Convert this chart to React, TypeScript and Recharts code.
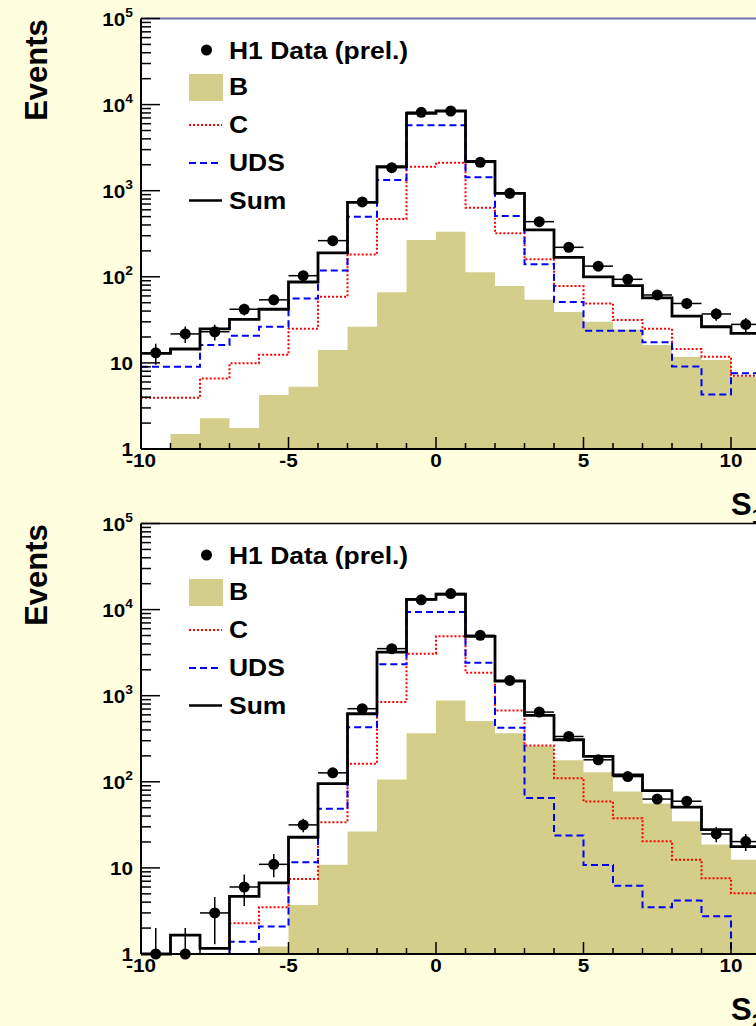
import React from 'react';
import {
  ComposedChart,
  Area,
  Line,
  Scatter,
  XAxis,
  YAxis,
  CartesianGrid,
  ReferenceLine,
  ErrorBar,
  Legend,
} from 'recharts';

const FONT = "'Liberation Sans', Arial, Helvetica, sans-serif";
const BG = '#ffffe0';
const KHAKI = '#d3cf8a';
const RED = '#ff0000';
const BLUE = '#0000ff';

// ---------- bins ----------
const binLow = [-10, -9, -8, -7, -6, -5, -4, -3, -2, -1, 0, 1, 2, 3, 4, 5, 6, 7, 8, 9, 10];
const binCenter = [-9.5, -8.5, -7.5, -6.5, -5.5, -4.5, -3.5, -2.5, -1.5, -0.5, 0.5, 1.5, 2.5, 3.5, 4.5, 5.5, 6.5, 7.5, 8.5, 9.5, 10.5];
const lastEdge = 11;

// ---------- top panel ----------
const topB = [null, 1.49, 2.27, 1.75, 4.24, 5.3, 14.1, 26.3, 66, 267, 334, 113, 78, 54, 39, 30, 24.5, 16.1, 11.7, 10.8, 6.9];
const topC = [3.94, 3.94, 6.6, 9.9, 12.4, 25, 58.7, 182, 469, 1900, 2115, 635, 320, 160, 78, 49, 31.5, 25, 14.5, 11.8, 7.1];
const topUDS = [9.0, 9.0, 16.1, 20.7, 26.3, 56, 118, 499, 1331, 5750, 5750, 1432, 508, 140, 51, 23.7, 23.7, 17.4, 9.1, 4.3, 7.6];
const topSum = [12.9, 14.5, 24.8, 32, 42, 87, 190, 733, 1900, 7930, 8430, 2195, 933, 350, 168, 100, 79, 57, 35, 26.3, 22];
const topData = [13.1, 21.7, 23, 42, 54, 103, 263, 740, 1850, 8130, 8430, 2136, 933, 437, 220, 133, 93.5, 61.5, 49, 37, 28];
const topErrLow = [3.6, 4.7, 4.8, 6.5, 7.3, 10, 16, 27, 43, 90, 92, 46, 31, 21, 15, 11.5, 9.7, 7.8, 7, 6.1, 5.3];
const topErrHigh = [3.6, 4.7, 4.8, 6.5, 7.3, 10, 16, 27, 43, 90, 92, 46, 31, 21, 15, 11.5, 9.7, 7.8, 7, 6.1, 5.3];

// ---------- bottom panel ----------
const botB = [null, null, null, null, 1.22, 3.71, 10.9, 26.4, 106, 367, 882, 507, 367, 260, 178, 129, 77, 56, 34.8, 18.7, 12.4];
const botC = [null, null, null, 2.27, 3.48, 7.45, 33.9, 162, 843, 3080, 4890, 1850, 675, 264, 110, 59, 37.7, 20.4, 12.4, 7.57, 5.07];
const botUDS = [1, 1, 1, 1.39, 2.08, 11.6, 48.5, 431, 2312, 9380, 9380, 2420, 425, 65, 23.8, 10.8, 6.2, 3.48, 4.17, 2.74, 1];
const botSum = [1, 1.66, 1.16, 4.67, 6.7, 22.7, 95, 617, 3213, 13180, 15070, 4890, 1478, 590, 308, 197, 120, 79, 50.7, 27.9, 17.7];
const botData = [1, 1, 3, 6, 11, 31.6, 127, 706, 3520, 13000, 15350, 5030, 1506, 645, 336, 180, 115, 63, 59.5, 24.8, 20.2];
const botErrLow = [0, 0, 1.7, 2.4, 3.2, 5.6, 11, 27, 59, 114, 124, 71, 39, 25, 18, 13.4, 10.7, 7.9, 7.7, 5, 4.5];
const botErrHigh = [1, 1, 1.6, 2.4, 3.5, 5.6, 11, 27, 59, 114, 124, 71, 39, 25, 18, 13.4, 10.7, 7.9, 7.7, 5, 4.5];

// ---------- axes ----------
const xTicks = [-10, -9, -8, -7, -6, -5, -4, -3, -2, -1, 0, 1, 2, 3, 4, 5, 6, 7, 8, 9, 10, 11];
const xMajorTicks = [-10, -5, 0, 5, 10];
const xMajorLabels = ['-10', '-5', '0', '5', '10'];
const yMajorTicks = [1, 10, 100, 1000, 10000, 100000];
const yMajorBase = ['1', '10', '10', '10', '10', '10'];
const yMajorExp = ['', '', '2', '3', '4', '5'];
const yMinorMult = [2, 3, 4, 5, 6, 7, 8, 9];
const yTicks: number[] = [];
yMajorTicks.forEach((d, i) => {
  yTicks.push(d);
  if (i < yMajorTicks.length - 1) yMinorMult.forEach((m) => yTicks.push(d * m));
});

const legendLabels = ['H1 Data (prel.)', 'B', 'C', 'UDS', 'Sum'];
const xTitleMain = 'S';
const yTitle = 'Events';

// ---------- layout ----------
const W = 770;
const PLOT_TOP = 18.5;
const PLOT_H = 430.5;
const XAXIS_H = 80;
const CHART_H = PLOT_TOP + PLOT_H + XAXIS_H;
const Y_AXIS_W = 141;
const PLOT_RIGHT = 760.5;

const XTick = (props: any) => {
  const { x, y, payload } = props;
  const v = payload.value;
  const idx = xMajorTicks.indexOf(v);
  const major = idx >= 0;
  return (
    <g>
      <line x1={x} y1={y} x2={x} y2={y - (major ? 12 : 6)} stroke="#000" strokeWidth={1.5} />
      {major && (
        <text
          transform={`translate(${x},${y + 17.5}) scale(1.15,1)`}
          textAnchor="middle"
          fontFamily={FONT}
          fontWeight="bold"
          fontSize={18}
          fill="#000"
        >
          {xMajorLabels[idx]}
        </text>
      )}
    </g>
  );
};

const YTick = (props: any) => {
  const { x, y, payload } = props;
  const v = payload.value;
  const idx = yMajorTicks.findIndex((t) => Math.abs(t - v) < 1e-6 * t);
  const major = idx >= 0;
  return (
    <g>
      <line x1={x} y1={y} x2={x + (major ? 19 : 10)} y2={y} stroke="#000" strokeWidth={1.5} />
      {major && (
        <text
          transform={`translate(133,${y + 7}) scale(1.15,1)`}
          textAnchor="end"
          fontFamily={FONT}
          fontWeight="bold"
          fontSize={18}
          fill="#000"
        >
          {yMajorBase[idx]}
          {yMajorExp[idx] !== '' && (
            <tspan dy={-9} fontSize={12}>
              {yMajorExp[idx]}
            </tspan>
          )}
        </text>
      )}
    </g>
  );
};

const LegendBox = () => {
  const rows = [50, 87, 125, 163, 200.5];
  const bases = [59.3, 94.5, 132.5, 171, 208.7];
  return (
    <svg width={420} height={230} style={{ display: 'block', overflow: 'visible' }}>
      <circle cx={206.5} cy={rows[0]} r={5.5} fill="#000" />
      <rect x={189} y={74} width={34} height={27} fill={KHAKI} />
      <line x1={189} x2={222} y1={rows[2]} y2={rows[2]} stroke={RED} strokeWidth={2} strokeDasharray="2 2" />
      <line x1={189} x2={222} y1={rows[3]} y2={rows[3]} stroke={BLUE} strokeWidth={2} strokeDasharray="7 4" />
      <line x1={189} x2={222} y1={rows[4]} y2={rows[4]} stroke="#000" strokeWidth={2.5} />
      {legendLabels.map((l, i) => (
        <text
          key={l}
          transform={`translate(229,${bases[i]}) scale(1.15,1)`}
          fontFamily={FONT}
          fontWeight="bold"
          fontSize={23}
          fill="#000"
        >
          {l}
        </text>
      ))}
    </svg>
  );
};

type PanelProps = {
  top: number;
  b: (number | null)[];
  c: (number | null)[];
  uds: (number | null)[];
  sum: (number | null)[];
  data: number[];
  errLow: number[];
  errHigh: number[];
  frameColor: string;
  frameWidth: number;
  sub: string;
};

const Panel = ({ top, b, c, uds, sum, data, errLow, errHigh, frameColor, frameWidth, sub }: PanelProps) => {
  const n = binLow.length;
  const rows: any[] = binLow.map((x, i) => ({ x, b: b[i], c: c[i], uds: uds[i], sum: sum[i] }));
  rows.push({ x: lastEdge, b: b[n - 1], c: c[n - 1], uds: uds[n - 1], sum: sum[n - 1] });
  const pts = binCenter.map((x, i) => ({ x, y: data[i], ex: 0.5, ey: [errLow[i], errHigh[i]] }));

  const xTitle = () => (
    <text x={731} y={515} fontFamily={FONT} fontWeight="bold" fontSize={31} fill="#000">
      {xTitleMain}
      <tspan dy={8} fontSize={21}>
        {sub}
      </tspan>
    </text>
  );
  const yTitleEl = () => (
    <text
      transform="translate(47,70) rotate(-90)"
      textAnchor="middle"
      fontFamily={FONT}
      fontWeight="bold"
      fontSize={31}
      fill="#000"
    >
      {yTitle}
    </text>
  );

  return (
    <div style={{ position: 'absolute', left: 0, top }}>
      <ComposedChart
        width={W}
        height={CHART_H}
        data={rows}
        margin={{ top: PLOT_TOP, right: W - PLOT_RIGHT, bottom: 0, left: 0 }}
      >
        <CartesianGrid fill="#ffffff" horizontal={false} vertical={false} stroke="none" />
        <Area
          type="stepAfter"
          dataKey="b"
          fill={KHAKI}
          fillOpacity={1}
          stroke="none"
          isAnimationActive={false}
          dot={false}
          activeDot={false}
        />
        <XAxis
          type="number"
          dataKey="x"
          domain={[-10, lastEdge]}
          ticks={xTicks}
          interval={0}
          tickSize={0}
          tickMargin={0}
          tickLine={false}
          axisLine={{ stroke: '#000', strokeWidth: 2 }}
          height={XAXIS_H}
          tick={(p: any) => <XTick {...p} />}
          label={{ value: xTitleMain, content: xTitle }}
        />
        <YAxis
          type="number"
          scale="log"
          domain={[1, 100000]}
          ticks={yTicks}
          interval={0}
          tickSize={0}
          tickMargin={0}
          tickLine={false}
          axisLine={{ stroke: '#000', strokeWidth: 2 }}
          width={Y_AXIS_W}
          tick={(p: any) => <YTick {...p} />}
          label={{ value: yTitle, content: yTitleEl }}
        />
        <Line
          type="stepAfter"
          dataKey="c"
          stroke={RED}
          strokeWidth={2}
          strokeDasharray="2 2"
          dot={false}
          activeDot={false}
          isAnimationActive={false}
        />
        <Line
          type="stepAfter"
          dataKey="uds"
          stroke={BLUE}
          strokeWidth={2}
          strokeDasharray="7 4"
          dot={false}
          activeDot={false}
          isAnimationActive={false}
        />
        <Line
          type="stepAfter"
          dataKey="sum"
          stroke="#000"
          strokeWidth={2.8}
          dot={false}
          activeDot={false}
          isAnimationActive={false}
        />
        <Scatter
          data={pts}
          dataKey="y"
          isAnimationActive={false}
          shape={(p: any) => <circle cx={p.cx} cy={p.cy} r={5.5} fill="#000" />}
        >
          <ErrorBar dataKey="ey" direction="y" width={0} stroke="#000" strokeWidth={1.5} isAnimationActive={false} />
          <ErrorBar dataKey="ex" direction="x" width={0} stroke="#000" strokeWidth={1.5} isAnimationActive={false} />
        </Scatter>
        <ReferenceLine y={100000} stroke={frameColor} strokeWidth={frameWidth} />
        <Legend
          layout="vertical"
          align="center"
          verticalAlign="middle"
          wrapperStyle={{ left: 0, top: 0, width: 420, height: 230, pointerEvents: 'none' }}
          content={() => <LegendBox />}
        />
      </ComposedChart>
    </div>
  );
};

export default function App() {
  return (
    <div
      style={{
        position: 'fixed',
        left: 0,
        top: 0,
        width: 756,
        height: 1026,
        overflow: 'hidden',
        background: BG,
      }}
    >
      <Panel
        top={0}
        b={topB}
        c={topC}
        uds={topUDS}
        sum={topSum}
        data={topData}
        errLow={topErrLow}
        errHigh={topErrHigh}
        frameColor="#6f6fae"
        frameWidth={2}
        sub="1"
      />
      <Panel
        top={504.8}
        b={botB}
        c={botC}
        uds={botUDS}
        sum={botSum}
        data={botData}
        errLow={botErrLow}
        errHigh={botErrHigh}
        frameColor="#000000"
        frameWidth={1.5}
        sub="2"
      />
    </div>
  );
}
